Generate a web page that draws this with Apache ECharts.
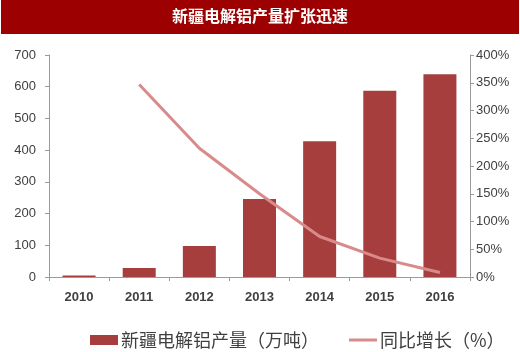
<!DOCTYPE html>
<html>
<head>
<meta charset="utf-8">
<script src="https://cdn.jsdelivr.net/npm/echarts@6/dist/echarts.min.js"></script>
<style>
  html, body { margin: 0; padding: 0; background: #fff; }
  #main { width: 520px; height: 352px; }
</style>
</head>
<body>
<div id="main"></div>
<script>
var years = ['2010', '2011', '2012', '2013', '2014', '2015', '2016'];
// 新疆电解铝产量（万吨）
var output = [5, 28, 98, 246, 428, 587, 639];
// 同比增长（%）
var growth = [null, 347, 232, 150, 73, 34, 8];

var chart = echarts.init(document.getElementById('main'));

var labelColor = '#404040';
var axisLineColor = '#9a9a9a';

var option = {
  animation: false,
  backgroundColor: '#fff',
  graphic: [
    {
      type: 'rect',
      shape: { x: 1, y: 0, width: 518, height: 34 },
      style: { fill: '#9c0000' }
    },
    {
      type: 'text',
      left: 'center',
      top: 8,
      style: {
        text: '新疆电解铝产量扩张迅速',
        fill: '#fff',
        font: 'bold 16px "Noto Sans CJK SC"'
      }
    }
  ],
  grid: {
    left: 49,
    right: 50,
    top: 55,
    bottom: 75
  },
  legend: {
    left: 85,
    top: 326,
    itemWidth: 28,
    itemHeight: 10,
    itemGap: 30,
    textStyle: {
      color: labelColor,
      fontSize: 18,
      fontFamily: 'Noto Sans CJK SC',
      padding: [0, 0, 0, -2]
    },
    data: [
      { name: '新疆电解铝产量（万吨）', icon: 'rect' },
      { name: '同比增长（%）', icon: 'path://M0,0L0,0M0,10L0,10M0,3.5L28,3.5L28,6.5L0,6.5Z' }
    ]
  },
  xAxis: {
    type: 'category',
    data: years,
    axisLine: { lineStyle: { color: axisLineColor } },
    axisTick: { show: true, length: 4, lineStyle: { color: axisLineColor } },
    axisLabel: {
      color: labelColor,
      fontSize: 13,
      fontWeight: 'bold',
      margin: 14
    }
  },
  yAxis: [
    {
      type: 'value',
      min: 0,
      max: 700,
      interval: 100,
      splitLine: { show: false },
      axisLine: { show: true, lineStyle: { color: axisLineColor } },
      axisTick: { show: true, length: 4, lineStyle: { color: axisLineColor } },
      axisLabel: { color: labelColor, fontSize: 13, margin: 13 }
    },
    {
      type: 'value',
      min: 0,
      max: 400,
      interval: 50,
      splitLine: { show: false },
      axisLine: { show: true, lineStyle: { color: axisLineColor } },
      axisTick: { show: true, length: 4, lineStyle: { color: axisLineColor } },
      axisLabel: { color: labelColor, fontSize: 13, margin: 6, formatter: '{value}%' }
    }
  ],
  series: [
    {
      name: '新疆电解铝产量（万吨）',
      type: 'bar',
      data: output,
      barWidth: 33,
      itemStyle: { color: '#a63e3e' }
    },
    {
      name: '同比增长（%）',
      type: 'line',
      yAxisIndex: 1,
      data: growth,
      symbol: 'none',
      lineStyle: { color: '#d98a8a', width: 3 },
      itemStyle: { color: '#d98a8a' }
    }
  ]
};

chart.setOption(option);
</script>
</body>
</html>
